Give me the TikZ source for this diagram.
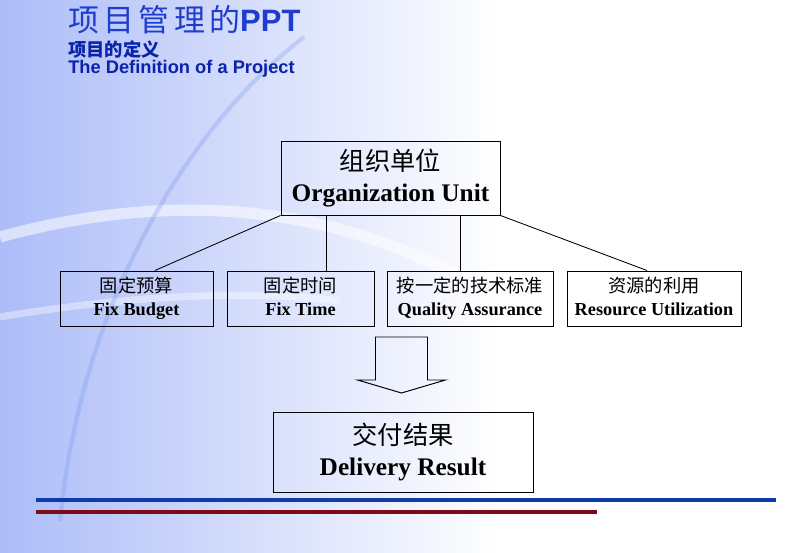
\documentclass[tikz,border=0pt]{standalone}
\usepackage{fontspec}
\setmainfont{Liberation Serif}
\setsansfont{Liberation Sans}
\newfontfamily\cjk{Noto Sans CJK SC}
\newfontfamily\cjkwide[LetterSpace=14]{Noto Sans CJK SC}

\definecolor{titleblue}{RGB}{30,60,205}
\definecolor{subblue}{RGB}{10,35,170}
\definecolor{bgblue}{RGB}{172,188,248}
\definecolor{swooshblue}{RGB}{120,150,240}
\definecolor{lineblue}{RGB}{15,60,170}
\definecolor{linered}{RGB}{125,10,20}

% two line box label
\newcommand{\boxtext}[2]{{\cjk #1}\\\textbf{#2}\vphantom{g}}

\tikzset{
	title/.style={anchor=west, inner sep=0, text=titleblue, font=\sffamily\bfseries\fontsize{22}{26}\selectfont},
	subtitle/.style={anchor=west, inner sep=0, text=subblue, font=\sffamily\bfseries\fontsize{13}{15}\selectfont},
	unit/.style={draw, line width=0.7pt, align=center, inner sep=0, minimum width=5.475cm, minimum height=1.85cm, font=\fontsize{18}{21.5}\selectfont},
	task/.style={draw, line width=0.7pt, align=center, inner sep=0, minimum height=1.375cm, font=\fontsize{13}{16.3}\selectfont},
	link/.style={line width=0.6pt}
}

\begin{document}
\begin{tikzpicture}
			\useasboundingbox (0,0) rectangle (20,13.825);
			% background
			\fill[left color=bgblue, right color=white] (0,0) rectangle (12.5,13.825);
			\draw[white, line width=8pt, opacity=0.55] (0,7.9) .. controls (4,9) and (8,8.8) .. (11.5,6.9);
			\draw[white, line width=5pt, opacity=0.4] (0,5.9) .. controls (3,6.4) and (6,6.6) .. (8.5,6.3);
			\draw[swooshblue, line width=3pt, opacity=0.3] (1.5,0.8) .. controls (2,6) and (4.5,10.5) .. (7.6,12.9);

			% heading
			\node[title] (ttl) at (1.7,13.33) {{\cjkwide\mdseries 项目管理的}PPT};
			\node[subtitle] (sub) at (1.7,12.6) {\cjk\bfseries 项目的定义};
			\node[subtitle] (subeng) at (1.7,12.1) {The Definition of a Project};

			% boxes
			\node[unit] (org) at (9.7625,9.375) {\boxtext{组织单位}{Organization Unit}};
			\node[task, minimum width=3.825cm] (budget) at (3.4125,6.3625) {\boxtext{固定预算}{Fix Budget}};
			\node[task, minimum width=3.675cm] (time) at (7.5125,6.3625) {\boxtext{固定时间}{Fix Time}};
			\node[task, minimum width=4.15cm] (quality) at (11.75,6.3625) {\boxtext{按一定的技术标准}{Quality Assurance}};
			\node[task, minimum width=4.35cm] (resource) at (16.35,6.3625) {\boxtext{资源的利用}{Resource Utilization}};
			\node[unit, minimum width=6.5cm, minimum height=2cm] (result) at (10.075,2.525) {\boxtext{交付结果}{Delivery Result}};

			% links
			\coordinate (t2) at ([xshift=0.66cm]time.north);
			\coordinate (t3) at ([xshift=-0.25cm]quality.north);
			\draw[link] (org.south west) -- ([xshift=0.46cm]budget.north);
			\draw[link] (t2) -- (t2 |- org.south);
			\draw[link] (t3) -- (t3 |- org.south);
			\draw[link] (org.south east) -- ([xshift=-0.175cm]resource.north);

			% hollow arrow
			\coordinate (arr) at (10.0375,5.4);
			\draw[line width=0.7pt] (arr) +(-0.65,0) -- +(0.65,0) -- +(0.65,-1.075) -- +(1.1,-1.075) -- +(0,-1.4) -- +(-1.1,-1.075) -- +(-0.65,-1.075) -- cycle;

			% rules
			\draw[lineblue, line width=2.2pt] (0.9,1.325) -- (19.4,1.325);
			\draw[linered, line width=2.2pt] (0.9,1.025) -- (14.925,1.025);
		\end{tikzpicture}
\end{document}
